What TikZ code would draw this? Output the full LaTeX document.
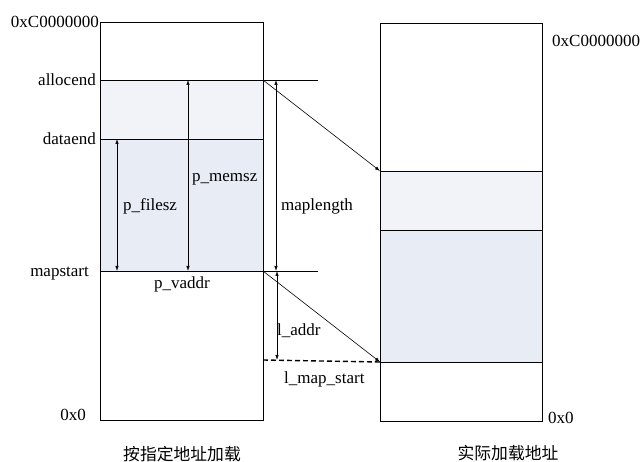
\documentclass[tikz,border=0pt]{standalone}
\usepackage{fontspec}
\setmainfont{Liberation Serif}
\newfontfamily\cjk{Noto Sans CJK SC}
\usetikzlibrary{arrows.meta}
\definecolor{fillA}{HTML}{F1F3F8}
\definecolor{fillB}{HTML}{E8EDF5}
\tikzset{
  lbl/.style={inner sep=0pt,font=\fontsize{17}{17}\selectfont},
  captxt/.style={inner sep=0pt,font=\cjk\fontsize{16.8}{17}\selectfont},
  box/.style={draw=black,line width=0.8pt},
  sep/.style={draw=black,line width=0.8pt},
  dim/.style={line width=0.7pt,{Latex[length=5pt,width=3.5pt]}-{Latex[length=5pt,width=3.5pt]}},
  map/.style={line width=0.6pt,-{Latex[length=5pt,width=3.5pt]}},
}
\begin{document}
\begin{tikzpicture}[x=1pt,y=-1pt]
\useasboundingbox (0,0) rectangle (640,462);
% fills
\fill[fillA] (100,80) rectangle (263,139);
\fill[fillB] (100,139) rectangle (263,271);
\fill[fillA] (380,171) rectangle (542,230);
\fill[fillB] (380,230) rectangle (542,362);
% boxes
\draw[box] (100,22) rectangle (263,420);
\draw[box] (380,23) rectangle (542,421);
% coordinates
\coordinate (La) at (263,80);
\coordinate (Lm) at (263,271);
\coordinate (Ra) at (380,171);
\coordinate (Rm) at (380,362);
\coordinate (Ld) at (263,360);
\coordinate (Ae) at (318,80);
\coordinate (Me) at (318,271);
% separators
\draw[sep] (100,80) -- (Ae);
\draw[sep] (100,139) -- (263,139);
\draw[sep] (100,271) -- (Me);
\draw[sep] (380,171) -- (542,171);
\draw[sep] (380,230) -- (542,230);
\draw[sep] (380,362) -- (542,362);
% dims
\coordinate (f1) at (117,139); \coordinate (f2) at (117,271);
\coordinate (m1) at (188,80);  \coordinate (m2) at (188,271);
\coordinate (ml1) at (276,80); \coordinate (ml2) at (276,271);
\coordinate (la1) at (277,271); \coordinate (la2) at (277,360);
\draw[dim] (f1) -- (f2);
\draw[dim] (m1) -- (m2);
\draw[dim] (ml1) -- (ml2);
\draw[dim] (la1) -- (la2);
% mapping
\draw[map] (La) -- (Ra);
\draw[map] (Lm) -- (Rm);
\draw[line width=1.4pt,dash pattern=on 5pt off 3pt] (Ld) -- (Rm);
% labels
\node[lbl,anchor=base east] (t1) at (99,28) {0xC0000000};
\node[lbl,anchor=base east] (t2) at (96,86) {allocend};
\node[lbl,anchor=base east] (t3) at (96,145) {dataend};
\node[lbl,anchor=base east] (t4) at (89,277) {mapstart};
\node[lbl,anchor=base] (t5) at (182,289) {p\_vaddr};
\node[lbl,anchor=base west] (t6) at (123,211) {p\_filesz};
\node[lbl,anchor=base west] (t7) at (192,182) {p\_memsz};
\node[lbl,anchor=base west] (t8) at (281,211) {maplength};
\node[lbl,anchor=base west] (t9) at (277,336) {l\_addr};
\node[lbl,anchor=base west] (t10) at (284,383) {l\_map\_start};
\node[lbl,anchor=base west] (t11) at (552,47) {0xC0000000};
\node[lbl,anchor=base west] (t12) at (548,423) {0x0};
\node[lbl,anchor=base east] (t13) at (86,420) {0x0};
\node[captxt] (c1) at (182,454) {按指定地址加载};
\node[captxt] (c2) at (508,453) {实际加载地址};
\end{tikzpicture}
\end{document}
